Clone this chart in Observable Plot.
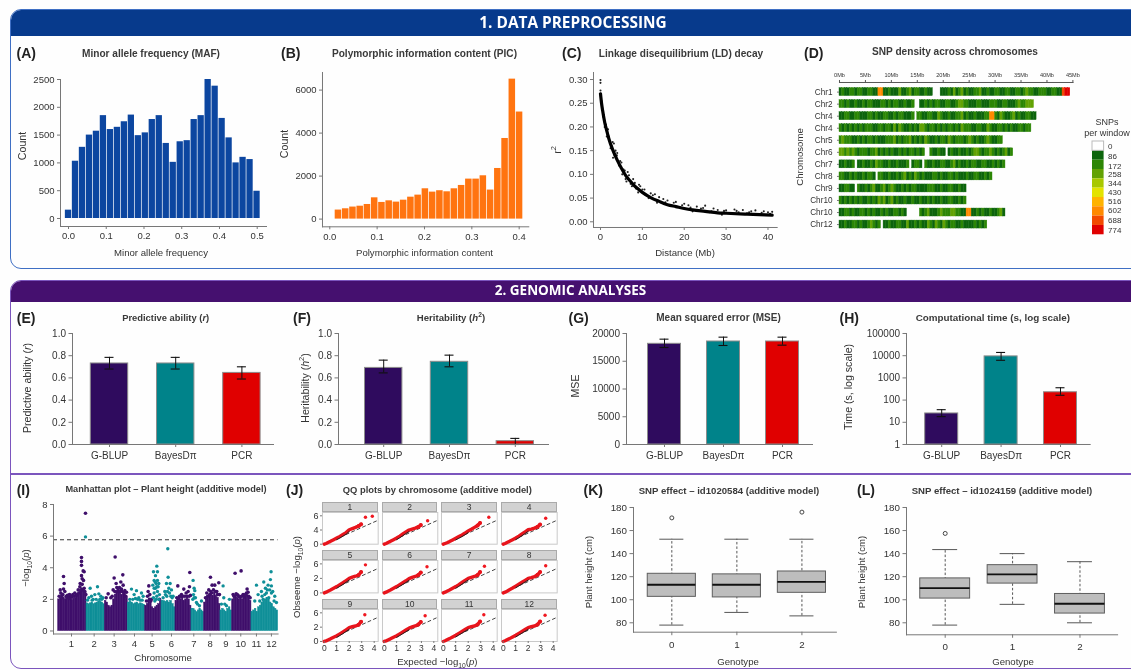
<!DOCTYPE html>
<html><head><meta charset="utf-8">
<script src="https://cdn.jsdelivr.net/npm/d3@7"></script>
<script src="https://cdn.jsdelivr.net/npm/@observablehq/plot@0.6"></script>
<style>
html,body{margin:0;padding:0;background:#fff;}
#root{position:relative;width:1131px;height:670px;overflow:hidden;background:#fefefe;font-family:"Liberation Sans",Arial,sans-serif;color:#333;filter:blur(.35px);}
#root svg{position:absolute;background:transparent;overflow:visible;}
.t{position:absolute;white-space:nowrap;transform:translate(-50%,-50%);line-height:1;}
.title{font-weight:bold;font-size:9.6px;color:#3a3a3a;}
.letter{font-weight:bold;font-size:14px;color:#222;transform:translateY(-50%);}
.axl{font-size:9.6px;color:#333;}
.big{font-size:10.6px;}
.rot{transform:translate(-50%,-50%) rotate(-90deg);}
.head{position:absolute;color:#fff;font-family:"Open Sans",sans-serif;font-weight:700;transform:translate(-50%,-50%);white-space:nowrap;line-height:1;}
.sec{position:absolute;box-sizing:border-box;border-radius:11px;overflow:hidden;}
.strip{position:absolute;box-sizing:border-box;background:#d2d2d2;border:1px solid #aaa;text-align:center;font-size:8.5px;color:#333;}
sub,sup{font-size:70%;line-height:0;}
</style></head><body><div id="root"></div>
<script>
// ---------- data ----------
const mafCounts=[150,1030,1280,1500,1570,1850,1600,1640,1740,1860,1490,1540,1780,1850,1350,1010,1380,1400,1780,1850,2500,2380,1800,1450,1000,1100,1060,490];
const mafBinStart=0.0;const mafBinStep=0.0185;
const picCounts=[420,480,560,600,680,990,775,850,790,880,1020,1115,1410,1255,1320,1270,1410,1565,1860,1860,2015,1350,2355,3750,6510,4980];
const picBinStart=0.0183;const picBinStep=0.0153;
const ldCurveX=[0,0.25,0.5,1,1.5,2,3,4,5,6,7,8,9,10,12,14,16,18,20,22,25,28,30,35,41];
const ldCurveY=[0.27,0.25,0.235,0.21,0.192,0.175,0.15,0.13,0.113,0.098,0.087,0.077,0.069,0.062,0.051,0.043,0.036,0.032,0.028,0.025,0.022,0.019,0.018,0.016,0.014];
const ldPointX=[0,0,0,0.1,0.4,0.8,1.3,1.8,2.2,2.6,3.2,3.6,4,4.4,5,5.5,6,6.5,7.2,7.8,8.5,9.5,10.5,11.5,12,13,14,15,16,17,18,19,20,21,22,23,24,25,26,27,28,29,30,31,32,33,34,35,36,37,38,39,40,41,1,2,3,4.5,6.2,9,11,13.5,0,0.2,0.6,1.5,2.4,2.9,3.4,3.9,4.7,5.2,5.8,6.8,7.5,8.2,9.2,10,10.8,12.5,15.5,17.5,19.5,21.5,24.5,26.5,29.5,32.5,35.5,38.5,40.5];
const ldPointY=[0.299,0.293,0.277,0.265,0.24,0.225,0.205,0.195,0.17,0.16,0.165,0.15,0.145,0.12,0.125,0.11,0.09,0.105,0.08,0.09,0.07,0.075,0.068,0.05,0.06,0.058,0.052,0.048,0.045,0.035,0.042,0.03,0.038,0.035,0.022,0.032,0.028,0.034,0.02,0.028,0.025,0.015,0.024,0.018,0.026,0.02,0.025,0.018,0.022,0.024,0.016,0.022,0.02,0.021,0.2,0.18,0.135,0.118,0.085,0.062,0.056,0.04,0.27,0.255,0.222,0.18,0.155,0.168,0.14,0.14,0.128,0.1,0.108,0.098,0.075,0.082,0.078,0.068,0.057,0.056,0.041,0.04,0.035,0.03,0.029,0.022,0.023,0.023,0.02,0.019,0.017];
// SNP density: one digit per 0.5 Mb window; 0 is a gap, n is the n-th legend class.
const chrLabels=["Chr1","Chr2","Chr4","Chr4","Chr5","Chr6","Chr7","Chr8","Chr9","Chr10","Chr10","Chr12"];
const chrWindows=[
"1211221221 1221177112 1113112312 2112110001 1121312312 1122311211 2211221122 1232211222 112211899",
"2212112112 1221112212 1221121120 0112121221 1221123322 1112211122 2112211123 22333",
"1122112211 1221211221 1212211120 2211221132 1121122312 1121112277 2132112312 112211",
"2121212121 2221122122 1313211212 1332122121 2122121322 2112211321 1221212112 2122",
"2322211212 1221211122 2312122312 1213211212 2132122212 3212112321 122",
"3323232122 2122312121 2112121221 2120021121 1012112112 1233212232 1212312",
"1121120112 1121322112 1121112012 2102112112 2112312112 1221122112 1212",
"2211212112 1221022112 1121231213 2121112212 1122121112 112211212",
"1122110211 2123112312 3211212122 1111222112 112211211",
"2121212121 1212132312 3121121121 1211212112 112211212",
"1122121122 1212112121 1221210000 0212311123 2223322117 7112121121 1231",
"1121122121 1232120112 1122113112 1211321321 3212211211 1121212"];
const mbTicks=[0,5,10,15,20,25,30,35,40,45];
const snpClassLabels=["0","86","172","258","344","430","516","602","688","774"];
const snpClassColors=["#ffffff","#0c640c","#2c8605","#62a204","#a8c800","#e3e300","#ffb300","#ff8a00","#f24a00","#e00000"];
const snpLabelPos=[0.53,1.6,2.62,3.58,4.54,5.5,6.46,7.41,8.48,9.54];

const models=["G-BLUP","BayesDπ","PCR"];
const modelColors=["#2f0b5e","#00838a","#e00000"];
const rVal=[0.73,0.73,0.645],rLo=[0.68,0.68,0.59],rHi=[0.785,0.785,0.70];
const hVal=[0.69,0.745,0.03],hLo=[0.645,0.70,0.0],hHi=[0.76,0.805,0.055];
const mseVal=[18140,18560,18560],mseLo=[17480,17840,17900],mseHi=[18980,19340,19340];
const timeVal=[25,9300,225],timeLo=[18,6200,165],timeHi=[37,14000,360];

// Manhattan: genome position on a relative axis; dense mass top per segment plus individual hits.
const spanStart=[0,85,140,209,261,310,352,400,438,487,522,580];
const spanEnd=[85,140,209,261,310,352,400,438,487,522,580,660];
const spanTops=[
[2.0,2.1,2.15,2.1,2.0,2.1,2.05,2.0,1.95,2.05,2.1,2.2,2.3,2.5,2.7,2.6,2.4],
[1.75,1.7,1.75,1.8,1.7,1.75,1.8,1.9,1.85,1.8,1.7],
[1.9,1.8,1.6,1.5,1.6,2.0,2.3,2.5,2.5,2.4,2.3,2.4,2.3,2.1],
[1.8,1.85,1.8,1.7,1.75,1.8,1.7,1.75,1.7,1.65],
[1.6,1.7,1.9,1.8,1.5,1.4,1.5,1.6,1.7,1.9],
[1.9,1.9,1.85,1.9,1.8,1.9,1.7,1.5],
[1.9,2.0,1.9,2.0,2.1,1.9,2.0,2.1,2.0,1.6],
[1.4,1.4,1.3,1.2,1.3,1.4,1.3,1.2],
[1.8,2.0,2.2,2.2,2.3,2.2,2.4,2.2,2.1,1.7],
[1.3,1.4,1.3,1.2,1.4,1.5,1.3],
[2.0,2.2,2.2,2.1,2.0,2.1,2.0,2.1,2.2,2.3,2.2,1.9],
[1.2,1.3,1.4,1.2,1.5,1.6,1.8,1.9,2.0,2.1,2.0,1.8,1.7,1.5,1.4,1.3]];
const purpleHits=[[82,7.45],[16,3.45],[70,4.65],[70,4.4],[70,4.15],[75,3.8],[78,3.75],[70,3.5],[72,3.3],[76,3.2],[66,3.0],[72,2.95],[18,3],[16,2.65],[6,2.6],[8,2.4],[20,2.5],[34,2.3],[50,2.4],[60,2.6],[44,2.3],[65,2.8],[78,2.7],
[3,2.2],[11,2.25],[14,2.3],[24,2.2],[28,2.25],[31,2.15],[38,2.2],[41,2.15],[47,2.2],[54,2.25],[57,2.3],[62,2.4],[68,2.6],[74,2.6],[80,2.5],[83,2.3],[12,2.1],[26,2.1],[36,2.05],
[171,4.68],[194,3.55],[168,3.35],[174,3.0],[188,3.1],[195,2.9],[176,2.75],[184,2.75],[150,2.35],[200,2.55],[205,2.45],[165,2.6],[180,2.6],[158,2.1],[190,2.65],
[144,2.1],[162,2.2],[170,2.5],[178,2.5],[186,2.5],[192,2.5],[198,2.4],[203,2.2],
[272,2.85],[270,2.5],[268,2.2],[275,2.3],[280,2.0],[265,1.9],[274,2.0],[278,1.9],[304,2.0],
[395,3.7],[359,2.85],[377,2.65],[394,2.8],[370,2.3],[384,2.4],[390,2.5],[364,2.2],[397,2.25],[356,2.1],[362,2.05],[368,2.2],[374,2.2],[380,2.2],[387,2.2],[393,2.2],
[457,3.4],[462,2.9],[470,2.9],[482,3.05],[446,2.4],[452,2.6],[466,2.6],[476,2.5],[458,2.5],[484,2.3],[442,2.1],[449,2.2],[455,2.3],[461,2.4],[472,2.5],[478,2.3],
[531,3.65],[549,3.8],[567,2.65],[525,2.3],[540,2.25],[555,2.3],[572,2.2],[565,2.4],[528,2.2],[534,2.35],[537,2.3],[544,2.15],[550,2.2],[558,2.15],[562,2.3],[570,2.45],[576,2.1]];
const tealHits=[[82,5.95],[96,2.7],[118,2.8],[100,2.2],[92,2.1],[110,2.3],[128,2.2],[134,2.1],[105,2.0],[122,2.35],[114,2.0],[88,1.95],[102,1.95],[125,2.0],[131,2.0],
[220,2.65],[235,2.55],[250,2.4],[242,2.1],[228,2.3],[255,2.2],[215,2.0],[232,2.05],[246,1.95],[224,2.0],[238,2.0],[252,1.95],
[296,4.1],[286,3.75],[298,3.75],[292,3.5],[288,3.2],[298,3.2],[294,3.0],[284,2.9],[300,2.8],[292,2.7],[298,2.5],[288,2.4],[296,2.2],[304,2.3],[286,2.1],[294,2.0],[302,2.0],[290,1.9],[288,2.7],[296,2.8],[291,3.1],[302,3.0],
[329,5.2],[330,3.4],[336,3.0],[325,3.0],[340,2.6],[320,2.5],[332,2.7],[345,2.2],[315,2.1],[326,2.2],[338,2.2],[322,2.3],[328,2.5],[334,2.4],[342,2.1],
[405,3.2],[408,2.7],[410,2.55],[406,2.3],[412,2.1],[430,1.9],[418,1.7],[424,1.6],[404,2.0],[415,1.8],[408,2.1],
[495,2.85],[514,2.0],[497,2.1],[490,1.7],[505,1.6],[500,1.7],
[639,3.75],[595,2.9],[617,3.1],[637,3.25],[640,2.85],[630,2.9],[622,2.7],[610,2.5],[600,2.3],[625,2.4],[640,2.4],[650,2.2],[632,2.1],[615,2.0],[655,1.8],[590,1.9],[605,1.9],[612,2.2],[628,2.6],[635,2.6],[644,2.5],[620,2.3],[648,1.9]];
const chrTickPos=[40,108,168,229,282,340,407,456,503,548,595,640];
const chrTickLabels=["1","2","3","4","5","6","7","8","9","10","11","12"];
const gwThreshold=5.77;

// QQ
const qqNames=["1","2","3","4","5","6","7","8","9","10","11","12"];
const qqExpected=[0,0.15,0.3,0.5,0.75,1,1.25,1.5,1.75,2,2.25,2.5,2.75,2.95];
const qqObserved=[
[0,0.15,0.35,0.6,0.95,1.3,1.65,2.05,2.45,3.05,3.3,3.55,3.85,4.2],
[0,0.15,0.35,0.6,0.95,1.3,1.7,2.15,2.6,3.0,3.2,3.4,3.65,4.05],
[0,0.15,0.3,0.55,0.9,1.25,1.6,1.95,2.35,2.8,3.15,3.55,3.95,4.5],
[0,0.15,0.35,0.6,0.95,1.3,1.7,2.15,2.6,3.05,3.2,3.4,3.7,4.15],
[0,0.15,0.35,0.6,0.95,1.3,1.7,2.1,2.55,3.0,3.25,3.45,3.7,4.3],
[0,0.15,0.35,0.6,0.95,1.3,1.7,2.1,2.5,2.95,3.2,3.4,3.7,4.2],
[0,0.15,0.35,0.6,0.95,1.3,1.7,2.15,2.6,3.0,3.2,3.4,3.7,4.3],
[0,0.15,0.35,0.65,1.0,1.4,1.8,2.2,2.6,3.0,3.15,3.35,3.75,4.3],
[0,0.12,0.3,0.55,0.9,1.2,1.6,2.0,2.45,2.9,3.1,3.25,3.5,4.15],
[0,0.12,0.3,0.55,0.9,1.2,1.6,2.0,2.4,2.8,3.05,3.25,3.55,4.1],
[0,0.15,0.35,0.6,0.95,1.3,1.7,2.1,2.5,2.9,3.1,3.25,3.55,4.2],
[0,0.15,0.35,0.6,0.95,1.3,1.7,2.1,2.5,2.9,3.1,3.25,3.55,4.2]];
const qqOutlierX=[[3.3,3.85],[3.5],[3.65],[3.4],[3.3],[3.45],[3.3],[3.4],[3.25],[3.3],[3.25],[3.35]];
const qqOutlierY=[[5.7,5.9],[4.95],[5.7],[5.5],[5.8],[5.4],[5.5],[5.6],[5.6],[5.4],[5.6],[5.5]];
const qqTickLabelsTop=["0","4","6"],qqTickLabelsRest=["0","2","6"];
const qqTickPos=[0,3,6];
const qqNullX=[0,4.32],qqNullY=[0,5.07];

// Box plots
const genotypes=[0,1,2];
const kLow=[78,89,86],kQ1=[102.5,102,106],kMed=[113,113,115.5],kQ3=[122.5,122,124.5],kHigh=[152.5,152.5,152.5];
const kOutG=[0,2],kOutV=[171,176];
const lLow=[78,96,80],lQ1=[101,114,88],lMed=[110,122,96.5],lQ3=[118.5,130,105],lHigh=[143.5,140,133];
const lOutG=[0],lOutV=[157.5];

// ---------- helpers ----------
const root=document.getElementById("root");
const AX="#777",TX="#333",fd=d3.format("d");
function addChart(box,pad,opts){
  const [l,t,r,b]=box,[pl,pt,pr,pb]=pad;
  const svg=Plot.plot({width:r-l+pl+pr,height:b-t+pt+pb,marginLeft:pl,marginTop:pt,marginRight:pr,marginBottom:pb,
    style:{fontFamily:'"Liberation Sans",Arial,sans-serif',background:"transparent",color:TX},...opts});
  svg.style.left=(l-pl)+"px";svg.style.top=(t-pt)+"px";root.appendChild(svg);return svg;
}
function txt(html,x,y,cls,size){const d=document.createElement("div");d.className="t "+cls;d.innerHTML=html;d.style.left=x+"px";d.style.top=y+"px";if(size)d.style.fontSize=size+"px";root.appendChild(d);return d;}
function letter(s,x,y){const d=document.createElement("div");d.className="t letter";d.textContent=s;d.style.left=x+"px";d.style.top=y+"px";root.appendChild(d);}
function axes(xOpt,yOpt){
  return [
    Plot.axisX({tickSize:3,tickPadding:3,fontSize:9.5,stroke:AX,fill:TX,label:null,...xOpt}),
    Plot.axisY({tickSize:3,tickPadding:3,fontSize:9.5,stroke:AX,fill:TX,label:null,...yOpt}),
    Plot.frame({anchor:"left",stroke:AX}),Plot.frame({anchor:"bottom",stroke:AX})
  ];
}

// ---------- frames ----------
function section(top,height,border,head,headH,label,labelX,labelY,size){
  const s=document.createElement("div");s.className="sec";
  s.style.cssText=`left:10px;top:${top}px;width:1140px;height:${height}px;border:1.5px solid ${border};`;
  const h=document.createElement("div");h.style.cssText=`position:absolute;left:0;top:0;right:0;height:${headH}px;background:${head};`;s.appendChild(h);
  root.appendChild(s);
  const d=document.createElement("div");d.className="head";d.textContent=label;d.style.left=labelX+"px";d.style.top=labelY+"px";d.style.fontSize=size+"px";root.appendChild(d);
}
section(9,259.5,"#3f6fc4","#073a8c",26,"1. DATA PREPROCESSING",573,23,15.4);
section(280,389,"#7b55bd","#45106f",21,"2. GENOMIC ANALYSES",570.5,291,13.5);
{const d=document.createElement("div");d.style.cssText="position:absolute;left:10px;top:473px;width:1131px;height:2px;background:#7b55bd;";root.appendChild(d);}

// ---------- panel A ----------
letter("(A)",16.5,53);txt("Minor allele frequency (MAF)",151,53.7,"title",10.1);
txt("Minor allele frequency",161,253,"axl");txt("Count",21.7,145.7,"axl rot",10.6);
addChart([60,79,266,226],[45,4,8,20],{
  x:{domain:[-0.0212,0.5246]},y:{domain:[-144,2500]},
  marks:[
    Plot.rect(mafCounts,{x1:(d,i)=>mafBinStart+(i-0.45)*mafBinStep,x2:(d,i)=>mafBinStart+(i+0.45)*mafBinStep,y1:()=>0,y2:d=>d,fill:"#0c46a0"}),
    ...axes({ticks:[0,.1,.2,.3,.4,.5],tickFormat:d3.format(".1f")},{ticks:[0,500,1000,1500,2000,2500],tickFormat:fd})
  ]});

// ---------- panel B ----------
letter("(B)",281,53);txt("Polymorphic information content (PIC)",424.5,53.7,"title",10.1);
txt("Polymorphic information content",424.5,253,"axl");txt("Count",284,144.3,"axl rot",10.6);
addChart([321.7,71.7,528,226],[36,4,8,20],{
  x:{domain:[-0.0154,0.4203]},y:{domain:[-358,6819]},
  marks:[
    Plot.rect(picCounts,{x1:(d,i)=>picBinStart+(i-0.45)*picBinStep,x2:(d,i)=>picBinStart+(i+0.45)*picBinStep,y1:()=>0,y2:d=>d,fill:"#ff7410"}),
    ...axes({ticks:[0,.1,.2,.3,.4],tickFormat:d3.format(".1f")},{ticks:[0,2000,4000,6000],tickFormat:fd})
  ]});

// ---------- panel C ----------
letter("(C)",562,53);txt("Linkage disequilibrium (LD) decay",681,53.7,"title",10.1);
txt("Distance (Mb)",685,253,"axl");txt("r<sup>2</sup>",556.7,150,"axl rot",10.6);
addChart([593,71.7,776.7,226.7],[30,4,8,20],{
  x:{domain:[-1.67,42.2]},y:{domain:[-0.012,0.3148]},
  marks:[
    Plot.dot(ldPointX,{x:d=>d,y:(d,i)=>ldPointY[i],r:1.05,fill:"#222"}),
    Plot.line(ldCurveX,{x:d=>d,y:(d,i)=>ldCurveY[i],stroke:"#000",strokeWidth:3.2,curve:"monotone-x"}),
    ...axes({ticks:[0,10,20,30,40]},{ticks:[0,.05,.1,.15,.2,.25,.3],tickFormat:d3.format(".2f")})
  ]});

// ---------- panel D ----------
letter("(D)",804,53);txt("SNP density across chromosomes",955,51.7,"title",10.1);
txt("Chromosome",800,157,"axl rot");
const snpCells=chrWindows.flatMap((s,row)=>s.replace(/ /g,"").split("").map((c,i)=>({row,mb:i*0.5,cls:+c})).filter(d=>d.cls>0));
addChart([839.3,81.7,1072.7,229.8],[36,14,8,4],{
  x:{domain:[0,45]},y:{domain:[-0.797,11.5],reverse:true},
  color:{type:"ordinal",domain:d3.range(10),range:snpClassColors},
  marks:[
    Plot.rect(snpCells,{x1:"mb",x2:d=>d.mb+0.5,y1:d=>d.row-0.33,y2:d=>d.row+0.33,fill:"cls",stroke:"cls",strokeWidth:0.4}),
    Plot.axisX({anchor:"top",ticks:mbTicks,tickFormat:d=>d+"Mb",tickSize:3,tickPadding:2,fontSize:5.6,stroke:"#555",fill:TX,label:null}),
    Plot.frame({anchor:"top",stroke:"#555"}),
    Plot.axisY({ticks:d3.range(12),tickFormat:i=>chrLabels[i],tickSize:2,tickPadding:5,fontSize:8.2,stroke:AX,fill:TX,label:null})
  ]});
txt("SNPs",1107,122,"axl",9);txt("per window",1107,132.5,"axl",9);
addChart([1091.7,140.7,1103.3,234],[0,1,24,1],{
  x:{domain:[0,1],axis:null},y:{domain:[0,10],reverse:true,axis:null},
  color:{type:"ordinal",domain:snpClassLabels,range:snpClassColors},
  marks:[
    Plot.rect(snpClassLabels,{x1:()=>0,x2:()=>1,y1:(d,i)=>i,y2:(d,i)=>i+1,fill:d=>d}),
    Plot.rect([0],{x1:()=>0,x2:()=>1,y1:()=>0,y2:()=>1,stroke:"#bbb",fill:"none"}),
    Plot.text(snpClassLabels,{x:()=>1,y:(d,i)=>snpLabelPos[i],text:d=>d,textAnchor:"start",dx:4,fontSize:8,fill:TX})
  ]});

// ---------- panels E-H ----------
function barPanel(box,c0,step,barW,vals,los,his,yOpt,yTicks,tickFormat){
  const [l,t,r,b]=box,pi=1-barW/step,po=((r-l)/step-3+pi)/2,align=(c0-barW/2-l)/(2*po*step);
  const rows=models.map((m,i)=>({m,v:vals[i],lo:los[i],hi:his[i],c:modelColors[i]}));
  const base=yOpt.domain[0],capInset=(barW-9)/2;
  addChart(box,[40,4,6,22],{
    x:{type:"band",domain:models,paddingInner:pi,paddingOuter:po,align,round:false},
    y:yOpt,color:{type:"identity"},
    marks:[
      Plot.barY(rows,{x:"m",y1:()=>base,y2:"v",fill:"c",stroke:"#8c8c8c",strokeWidth:1}),
      Plot.ruleX(rows,{x:"m",y1:"lo",y2:"hi",stroke:"#111",strokeWidth:1}),
      Plot.tickY(rows,{x:"m",y:"lo",stroke:"#111",strokeWidth:1.1,insetLeft:capInset,insetRight:capInset}),
      Plot.tickY(rows,{x:"m",y:"hi",stroke:"#111",strokeWidth:1.1,insetLeft:capInset,insetRight:capInset}),
      Plot.axisX({tickSize:3,tickPadding:4,fontSize:10,stroke:AX,fill:TX,label:null}),
      Plot.axisY({ticks:yTicks,tickFormat,tickSize:3.5,tickPadding:3,fontSize:10,stroke:AX,fill:TX,label:null}),
      Plot.frame({anchor:"left",stroke:AX}),Plot.frame({anchor:"bottom",stroke:AX})
    ]});
}
const f1=d3.format(".1f");
letter("(E)",16.8,317.7);txt("Predictive ability (<i>r</i>)",165.7,317.7,"title",9.4);txt("Predictive ability (<i>r</i>)",26.8,388,"axl rot big");
barPanel([72,333.3,273,444.3],109,66.2,37.4,rVal,rLo,rHi,{domain:[0,1]},[0,.2,.4,.6,.8,1],f1);
letter("(F)",293,317.7);txt("Heritability (<i>h</i><sup>2</sup>)",451,317.7,"title",9.6);txt("Heritability (<i>h</i><sup>2</sup>)",304.6,388.3,"axl rot big");
barPanel([337.5,333.3,547.5,444.3],382.7,65.8,37.4,hVal,hLo,hHi,{domain:[0,1]},[0,.2,.4,.6,.8,1],f1);
letter("(G)",568.5,317.7);txt("Mean squared error (MSE)",718.5,317.7,"title",10);txt("MSE",575,385.7,"axl rot big");
barPanel([626,333.3,812,444.3],664,59,33,mseVal,mseLo,mseHi,{domain:[0,20000]},[0,5000,10000,15000,20000],fd);
letter("(H)",839.6,317.7);txt("Computational time (s, log scale)",992.8,317.7,"title",9.85);txt("Time (s, log scale)",848,387.3,"axl rot big");
barPanel([906.3,333.3,1090,444.3],941.5,59.4,33,timeVal,timeLo,timeHi,{type:"log",domain:[1,100000]},[1,10,100,1000,10000,100000],fd);

// ---------- panel I ----------
letter("(I)",16.7,490);txt("Manhattan plot – Plant height (additive model)",166,490,"title",9.2);
txt("Chromosome",163,658.3,"axl");txt("−log<sub>10</sub>(<i>p</i>)",25.7,567.7,"axl rot");
const PUR="#3f0f6b",TEA="#0f8f98";
const mass=spanTops.flatMap((tops,s)=>tops.map((top,i)=>{const w=(spanEnd[s]-spanStart[s])/tops.length;
  return {g1:spanStart[s]+i*w,g2:spanStart[s]+(i+1)*w,top,c:s%2?TEA:PUR};}));
addChart([52.7,503.5,277.3,633],[26,3,6,18],{
  x:{domain:[-14,660]},y:{domain:[-0.19,8]},color:{type:"identity"},
  marks:[
    Plot.rect(mass,{x1:"g1",x2:"g2",y1:()=>0,y2:"top",fill:"c",stroke:"c",strokeWidth:0.5}),
    Plot.dot(purpleHits,{x:d=>d[0],y:d=>d[1],r:1.8,fill:PUR}),
    Plot.dot(tealHits,{x:d=>d[0],y:d=>d[1],r:1.7,fill:TEA}),
    Plot.ruleY([gwThreshold],{stroke:"#333",strokeWidth:1,strokeDasharray:"4,3"}),
    Plot.axisX({ticks:chrTickPos,tickFormat:(d,i)=>chrTickLabels[i],tickSize:3,tickPadding:3,fontSize:9.5,stroke:AX,fill:TX,label:null}),
    Plot.axisY({ticks:[0,2,4,6,8],tickSize:3,tickPadding:3,fontSize:9.5,stroke:AX,fill:TX,label:null}),
    Plot.frame({anchor:"left",stroke:AX}),Plot.frame({anchor:"bottom",stroke:AX})
  ]});

// ---------- panel J ----------
letter("(J)",286,490);txt("QQ plots by chromosome (additive model)",437.3,490,"title",9.4);
txt("Expected −log<sub>10</sub>(<i>p</i>)",437.3,662,"axl");txt("Obseeme −log<sub>10</sub>(<i>p</i>)",296.7,576.7,"axl rot");
const qqCols=[[322,377.7],[382,437.3],[441.3,497],[501.3,557]];
const qqRows=[[501.7,512.3,544],[550,560.3,592.7],[598.7,608.7,640.7]];
qqNames.forEach((name,k)=>{
  const c=k%4,r=Math.floor(k/4),[l,rt]=qqCols[c],[st,t,b]=qqRows[r];
  const s=document.createElement("div");s.className="strip";s.textContent=name;
  s.style.cssText=`left:${l}px;top:${st}px;width:${rt-l}px;height:${t-st}px;line-height:${t-st-2}px;`;root.appendChild(s);
  const labs=r===0?qqTickLabelsTop:qqTickLabelsRest;
  const pts=qqExpected.map((x,i)=>({x,y:qqObserved[k][i]}));
  const outs=qqOutlierX[k].map((x,i)=>({x,y:qqOutlierY[k][i]}));
  const marks=[
    Plot.frame({stroke:"#c9c9c9"}),
    Plot.line(qqNullX,{x:d=>d,y:(d,i)=>qqNullY[i],stroke:"#444",strokeWidth:1,strokeDasharray:"3,3"}),
    Plot.line(pts,{x:"x",y:"y",stroke:"#e8141c",strokeWidth:3.4}),
    Plot.dot(pts.slice(-2),{x:"x",y:"y",r:2,fill:"#e8141c"}),
    Plot.dot(outs,{x:"x",y:"y",r:1.7,fill:"#f01820"}),
    Plot.line(pts.slice(5,10),{x:"x",y:d=>d.y-0.35,stroke:"#222",strokeWidth:1})
  ];
  if(r===2)marks.push(Plot.axisX({ticks:[0,1,2,3,4],tickFormat:fd,tickSize:2,tickPadding:1.5,fontSize:8.5,stroke:AX,fill:TX,label:null}));
  if(c===0)marks.push(Plot.axisY({ticks:qqTickPos,tickFormat:(d,i)=>labs[i],tickSize:2,tickPadding:2,fontSize:9,stroke:AX,fill:TX,label:null}));
  addChart([l,t,rt,b],[14,1,1,14],{x:{domain:[-0.14,4.32],axis:null},y:{domain:[0,6.7],axis:null},marks});
});

// ---------- panels K, L ----------
function boxPanel(box,xd,yd,lows,q1s,meds,q3s,highs,og,ov){
  const rows=genotypes.map((g,i)=>({g,lo:lows[i],q1:q1s[i],m:meds[i],q3:q3s[i],hi:highs[i]}));
  const hb=0.37,hc=0.185;
  addChart(box,[32,3,6,20],{
    x:{domain:xd},y:{domain:yd},
    marks:[
      Plot.ruleX(rows,{x:"g",y1:"lo",y2:"hi",stroke:"#555",strokeWidth:1,strokeDasharray:"2.5,2"}),
      Plot.ruleY(rows,{y:"lo",x1:d=>d.g-hc,x2:d=>d.g+hc,stroke:"#555"}),
      Plot.ruleY(rows,{y:"hi",x1:d=>d.g-hc,x2:d=>d.g+hc,stroke:"#555"}),
      Plot.rect(rows,{x1:d=>d.g-hb,x2:d=>d.g+hb,y1:"q1",y2:"q3",fill:"#bdbdbd",stroke:"#5e5e5e",strokeWidth:1}),
      Plot.ruleY(rows,{y:"m",x1:d=>d.g-hb,x2:d=>d.g+hb,stroke:"#111",strokeWidth:1.8}),
      Plot.dot(og,{x:d=>d,y:(d,i)=>ov[i],r:2,stroke:"#444",strokeWidth:1,fill:"none"}),
      Plot.axisX({ticks:genotypes,tickFormat:fd,tickSize:3.5,tickPadding:5,fontSize:9.8,stroke:AX,fill:TX,label:null}),
      Plot.axisY({ticks:[80,100,120,140,160,180],tickSize:3.5,tickPadding:3,fontSize:9.8,stroke:AX,fill:TX,label:null}),
      Plot.frame({anchor:"left",stroke:AX}),Plot.frame({anchor:"bottom",stroke:AX})
    ]});
}
letter("(K)",583.6,490);txt("SNP effect – id1020584 (additive model)",729,490.5,"title");
txt("Genotype",738,661.7,"axl");txt("Plant height (cm)",588.6,571.7,"axl rot");
boxPanel([632.6,507,835.5,631.7],[-0.589,2.53],[71.85,180],kLow,kQ1,kMed,kQ3,kHigh,kOutG,kOutV);
letter("(L)",857,490);txt("SNP effect – id1024159 (additive model)",1002,490.5,"title");
txt("Genotype",1013,661.7,"axl");txt("Plant height (cm)",862.3,571.7,"axl rot");
boxPanel([906.3,507,1117.4,634.3],[-0.574,2.558],[69.6,180],lLow,lQ1,lMed,lQ3,lHigh,lOutG,lOutV);
</script></body></html>
